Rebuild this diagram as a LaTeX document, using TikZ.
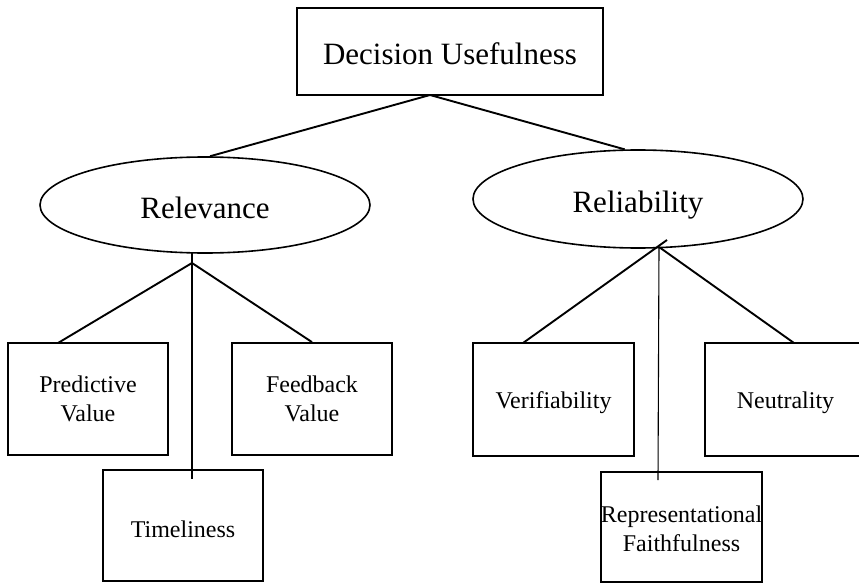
\documentclass[tikz,border=0pt]{standalone}
\usepackage{fontspec}
\setmainfont{Liberation Serif}
\usetikzlibrary{shapes.geometric}
\begin{document}
\begin{tikzpicture}[x=1pt,y=-1pt,
  headbox/.style={draw,line width=1.8pt,inner sep=0pt,text height=27pt,text depth=0pt,font=\fontsize{31}{36}\selectfont},
  oval/.style={draw,ellipse,line width=1.6pt,inner sep=0pt,minimum width=330,minimum height=96,text height=27pt,text depth=0pt,font=\fontsize{31}{36}\selectfont},
  leafbox/.style={draw,line width=1.8pt,inner sep=0pt,align=center,font=\fontsize{24}{29.5}\selectfont},
  link/.style={line width=1.9pt},
  stem/.style={line width=1.1pt}]
\clip (0,0) rectangle (859,583);
\fill[white] (0,0) rectangle (859,583);

% top level
\node[headbox,minimum width=306,minimum height=87] (top) at (450,51.5) {Decision Usefulness};

% second level
\node[oval] (rel) at (205,205) {Relevance};
\node[oval,minimum height=98] (reli) at (638,199) {Reliability};

% leaves under Relevance
\node[leafbox,minimum width=160,minimum height=112] (pred) at (88,399) {Predictive\\Value};
\node[leafbox,minimum width=160,minimum height=112] (feed) at (312,399) {Feedback\\Value};
\node[leafbox,minimum width=160,minimum height=111,text height=23pt,text depth=0pt] (time) at (183,525.5) {Timeliness};

% leaves under Reliability
\node[leafbox,minimum width=161,minimum height=113,text height=17pt,text depth=0pt] (verif) at (553.5,399.5) {Verifiability};
\node[leafbox,minimum width=161,minimum height=113,text height=17pt,text depth=0pt] (neut) at (785.5,399.5) {Neutrality};
\node[leafbox,minimum width=159,minimum height=110] (repr) at (681.5,527) {\rule{0pt}{20pt}Representational\\Faithfulness};

% joints
\coordinate (topjoin) at (430,95);
\coordinate (relbase) at (192,263);
\coordinate (relstem) at (192,253);
\coordinate (predtip) at (58,343);
\coordinate (timetip) at (192,479);
\coordinate (relibase) at (659,247);
\coordinate (reliover) at (667,240);
\coordinate (veriftip) at (523,343);
\coordinate (neuttip) at (794,343);
\coordinate (reprtip) at (658,480);

% connectors
\draw[link] (topjoin) -- (rel.84);
\draw[link] (topjoin) -- (reli.105);

\draw[stem] (relstem) -- (timetip);
\draw[link] (relbase) -- (predtip);
\draw[link] (relbase) -- (feed.north);

\draw[stem] (relibase) -- (reprtip);
\draw[link] (veriftip) -- (reliover);
\draw[link] (relibase) -- (neuttip);
\end{tikzpicture}
\end{document}
